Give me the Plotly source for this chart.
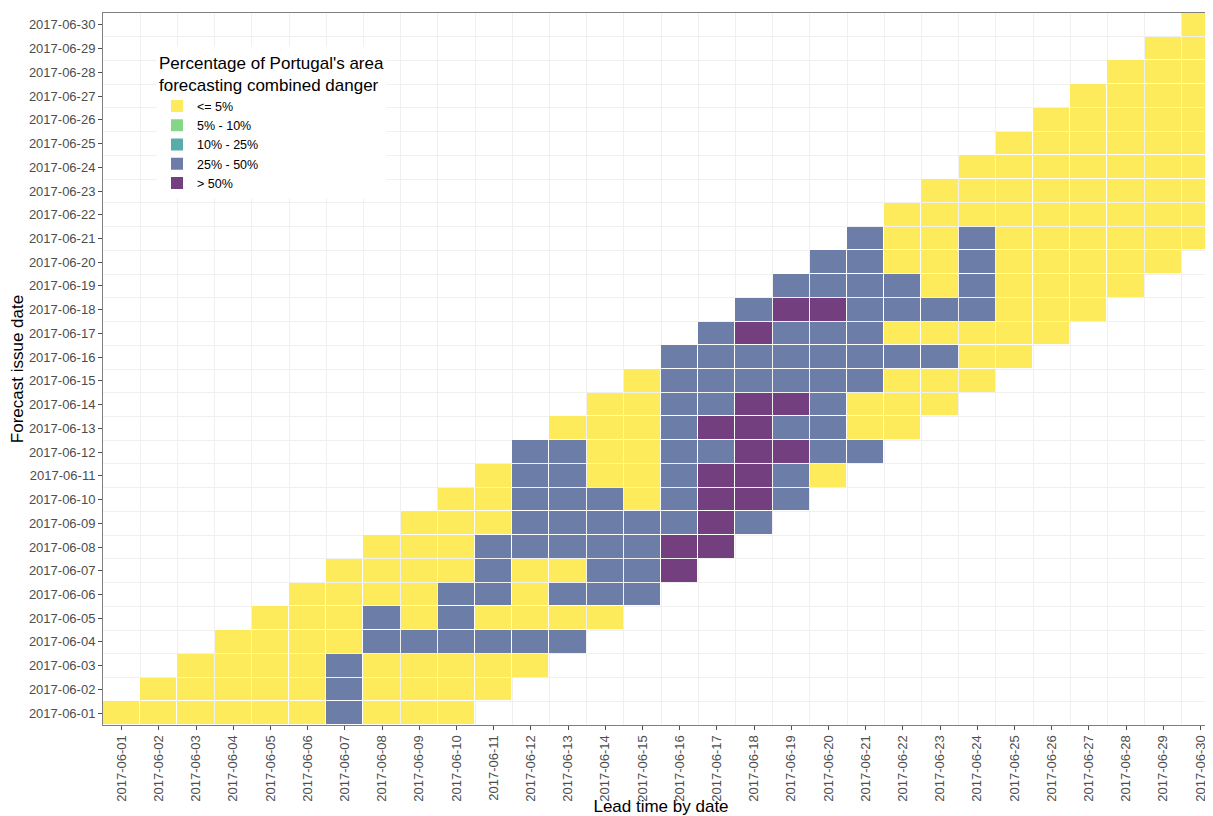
import plotly.graph_objects as go

# ---- data -------------------------------------------------------------
lead_dates = [f"2017-06-{d:02d}" for d in range(1, 31)]
issue_dates = [f"2017-06-{d:02d}" for d in range(1, 31)]

danger_classes = ["<= 5%", "5% - 10%", "10% - 25%", "25% - 50%", "> 50%"]
class_colors = ["#FDEB5B", "#86D68A", "#58ACA9", "#6C7DA8", "#733F7F"]
class_codes = {"Y": 0, "G": 1, "T": 2, "B": 3, "P": 4}

# class of each forecast cell, per issue date, starting at the issue date itself
issue_row_classes = [
    "YYYYYYBYYY",  # 06-01
    "YYYYYBYYYY",  # 06-02
    "YYYYBYYYYY",  # 06-03
    "YYYYBBBBBB",  # 06-04
    "YYYBYBYYYY",  # 06-05
    "YYYYBBYBBB",  # 06-06
    "YYYYBYYBBP",  # 06-07
    "YYYBBBBBPP",  # 06-08
    "YYYBBBBBPB",  # 06-09
    "YYBBBYBPPB",  # 06-10
    "YBBYYBPPBY",  # 06-11
    "BBYYBBPPBB",  # 06-12
    "YYYBPPBBYY",  # 06-13
    "YYBBPPBYYY",  # 06-14
    "YBBBBBBYYY",  # 06-15
    "BBBBBBBBYY",  # 06-16
    "BPBBBYYYYY",  # 06-17
    "BPPBBBBYYY",  # 06-18
    "BBBBYBYYYY",  # 06-19
    "BBYYBYYYYY",  # 06-20
    "BYYBYYYYYY",  # 06-21
    "YYYYYYYYY",   # 06-22
    "YYYYYYYY",    # 06-23
    "YYYYYYY",     # 06-24
    "YYYYYY",      # 06-25
    "YYYYY",       # 06-26
    "YYYY",        # 06-27
    "YYY",         # 06-28
    "YY",          # 06-29
    "Y",           # 06-30
]

# ---- build grid -------------------------------------------------------
nx, ny = len(lead_dates), len(issue_dates)
z = [[None] * nx for _ in range(ny)]
text = [[""] * nx for _ in range(ny)]
for i, row in enumerate(issue_row_classes):
    for k, ch in enumerate(row):
        code = class_codes[ch]
        z[i][i + k] = code
        text[i][i + k] = danger_classes[code]

xs = list(range(1, nx + 1))
ys = list(range(1, ny + 1))

n = len(class_colors)
colorscale = [[c / (n - 1), class_colors[c]] for c in range(n)]

fig = go.Figure()
fig.add_trace(go.Heatmap(
    x=xs, y=ys, z=z, text=text,
    zmin=0, zmax=n - 1, colorscale=colorscale, showscale=False,
    xgap=1, ygap=1, hoverongaps=False,
    hovertemplate="Issue %{y}<br>Lead %{x}<br>%{text}<extra></extra>",
    showlegend=False,
))
for c, (lab, col) in enumerate(zip(danger_classes, class_colors)):
    fig.add_trace(go.Scatter(
        x=[None], y=[None], mode="markers", name=lab,
        marker=dict(symbol="square", size=15, color=col),
        showlegend=True,
    ))

FONT = "Liberation Sans, Arial, sans-serif"
tick_font = dict(family=FONT, size=13, color="#4D4D4D")
axis_common = dict(
    showline=True, linecolor="#7F7F7F", linewidth=1, mirror=True,
    ticks="outside", ticklen=4, tickcolor="#4D4D4D",
    showgrid=False, zeroline=False, tickfont=tick_font,
    minor=dict(tick0=0.5, dtick=1, showgrid=True, gridcolor="#F0F0F0", gridwidth=1, ticks=""),
    automargin=False,
)

fig.update_layout(
    width=1213, height=808,
    margin=dict(l=95, r=2, t=5, b=91),
    paper_bgcolor="white", plot_bgcolor="white",
    font=dict(family=FONT, color="black"),
    xaxis=dict(
        range=[0.5, nx + 0.5], tickmode="array", tickvals=xs, ticktext=lead_dates,
        tickangle=-90,
        title=dict(text="Lead time by date", font=dict(size=17, color="black"), standoff=0),
        **axis_common,
    ),
    yaxis=dict(
        range=[0.5, ny + 0.5], tickmode="array", tickvals=ys, ticktext=issue_dates,
        title=dict(text="Forecast issue date", font=dict(size=17, color="black"), standoff=1),
        **axis_common,
    ),
    legend=dict(
        x=0.0484, y=0.952, xanchor="left", yanchor="top",
        bgcolor="white", borderwidth=0,
        title=dict(text="Percentage of Portugal's area<br>forecasting combined danger",
                   font=dict(size=17, color="black")),
        font=dict(size=12.5, color="black"),
        tracegroupgap=0, itemsizing="constant",
    ),
)

fig.write_html("out.html")
